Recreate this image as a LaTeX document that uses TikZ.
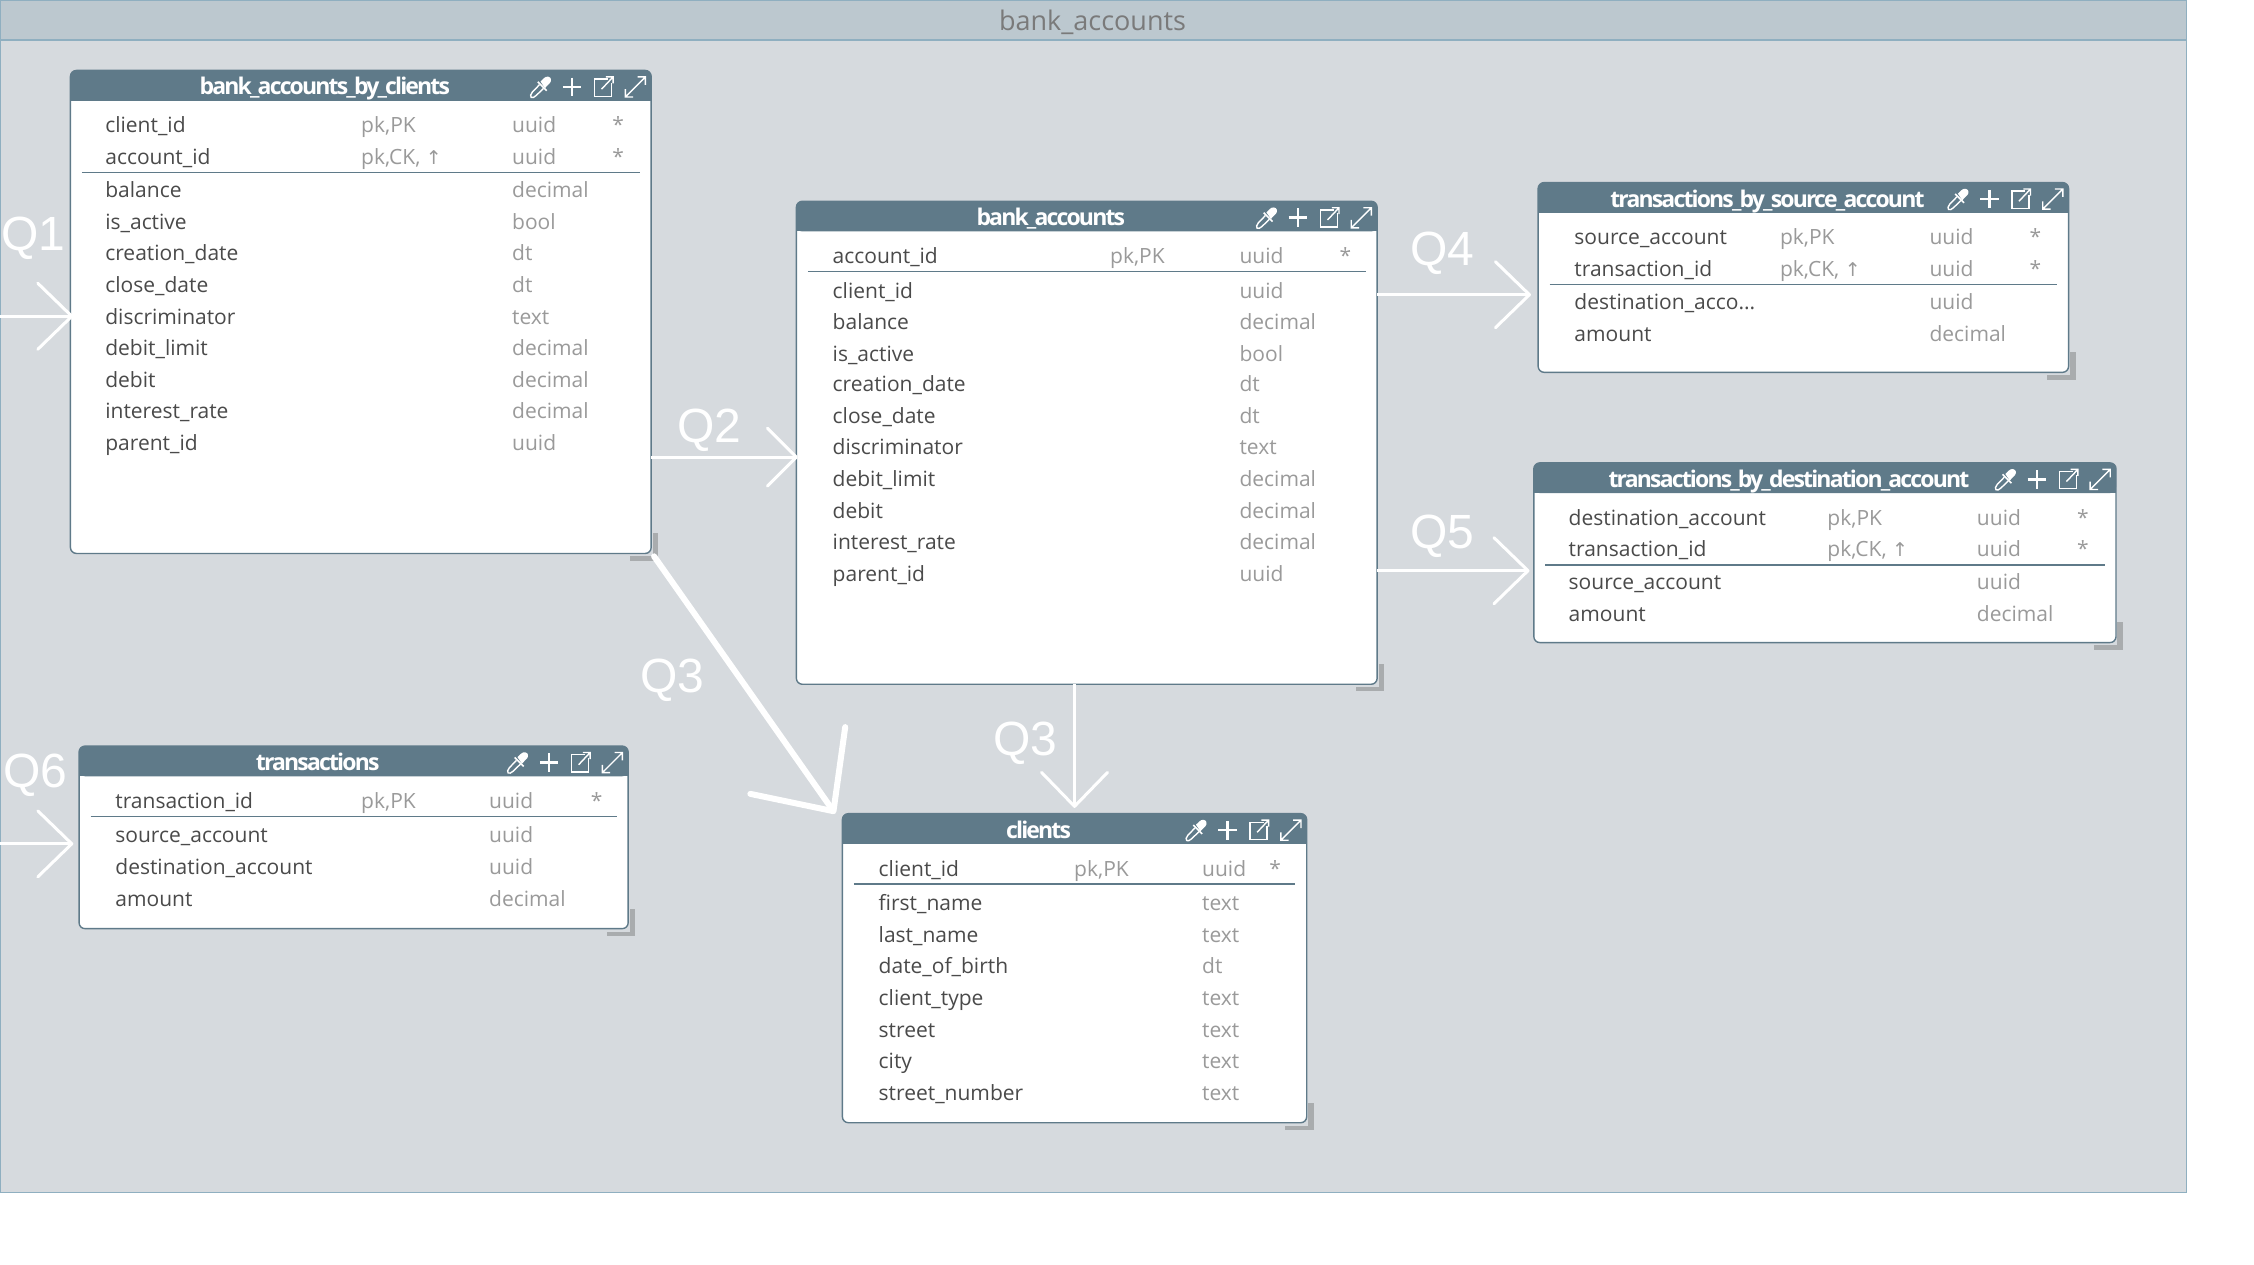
\documentclass[tikz,border=0pt]{standalone}
\usepackage{fontspec}
\setmainfont{Open Sans}
\newfontfamily\titlefont[LetterSpace=-8]{Open Sans Bold}
\newfontfamily\qfont[FakeBold=-0.25]{Liberation Sans}
\newfontfamily\arrowfont{DejaVu Sans}
\usetikzlibrary{arrows.meta}
\definecolor{panel}{HTML}{D6DADE}
\definecolor{panelbar}{HTML}{BCC8CF}
\definecolor{panelline}{HTML}{8FAFC0}
\definecolor{head}{HTML}{5F7A89}
\definecolor{nametext}{HTML}{4A4A4A}
\definecolor{keytext}{HTML}{9A9A9A}
\definecolor{grip}{HTML}{A9ACAE}
\newlength{\unitpx}\setlength{\unitpx}{0.71875pt}
\tikzset{
  x=\unitpx,y=-\unitpx,
  tablebox/.style={draw=head,line width=0.7pt,fill=white,rounded corners=3pt,inner sep=0pt,outer sep=0pt,anchor=north west},
  headbar/.style={fill=head,rounded corners=3pt},
  titletext/.style={text=white,font=\titlefont\fontsize{11.5}{13}\selectfont,inner sep=0pt,anchor=base},
  nametxt/.style={text=nametext,font=\fontsize{10.5}{13}\selectfont,inner sep=0pt,anchor=base west},
  keytxt/.style={text=keytext,font=\fontsize{10.5}{13}\selectfont,inner sep=0pt,anchor=base west},
  startxt/.style={text=keytext,font=\fontsize{10.5}{13}\selectfont,inner sep=0pt,anchor=base},
  sepline/.style={draw=head,line width=0.6pt},
  iconline/.style={draw=white,line width=0.7pt},
  conn/.style={draw=white,line width=1.5pt,-{Straight Barb[length=17pt,width=33pt,line width=1.5pt,round]}},
  conntwo/.style={draw=white,line width=1.5pt,-{Straight Barb[length=14.5pt,width=29pt,line width=1.5pt,round]}},
  connthick/.style={draw=white,line width=3pt,line cap=round,-{Straight Barb[length=31pt,width=58pt,line width=3pt,round]}},
  qlabel/.style={text=white,font=\qfont\fontsize{24}{28}\selectfont,inner sep=0pt},
}
\newcounter{rowno}
% table: id, left, right, top, bottom, separator y, title
\newcommand{\erdtable}[7]{%
  \node[tablebox,minimum width={(#3-#2)*\unitpx},minimum height={(#5-#4)*\unitpx}] (#1) at (#2,#4) {};
  \fill[headbar] (#2,#4+21) -- (#2,#4) -- (#3,#4) -- (#3,#4+21) -- cycle;
  \fill[head] (#2,#4+12) rectangle (#3,#4+21);
  \node[titletext] (#1title) at ({(#2+#3)/2-25},#4+17) {#7};
  \draw[sepline] (#2+8,#6) -- (#3-8,#6);
  % grip
  \fill[grip] (#3+1,#5-14) rectangle (#3+5,#5+5);
  \fill[grip] (#3-15,#5+2) rectangle (#3+5,#5+5);
  % icons: dropper
  \begin{scope}[shift={(#3-76.5,#4+11.5)}]
    \fill[white] (-0.5,-3.8) .. controls (1,-5) and (2.5,-7.6) .. (4.8,-7.2) .. controls (7,-6.8) and (7.4,-4.6) .. (6.2,-3) .. controls (5,-1.6) and (3.6,-0.6) .. (2.6,0.8) -- cycle;
    \draw[draw=white,line width=0.8pt] (-2.4,-3.6) -- (3.8,2.6);
    \draw[iconline] (-1.2,-1.6) -- (-6.2,3.6) .. controls (-7.4,5) and (-7.8,6.6) .. (-7,7.2) .. controls (-6.2,7.8) and (-4.8,7.2) .. (-3.6,6) -- (1.6,1);
  \end{scope}
  % plus
  \begin{scope}[shift={(#3-55,#4+11.5)}]
    \draw[draw=white,line width=1.3pt] (-6.5,0) -- (6.5,0) (0,-6.5) -- (0,6.5);
  \end{scope}
  % external box
  \begin{scope}[shift={(#3-33,#4+11.5)}]
    \draw[iconline] (3,-5.5) -- (-6.5,-5.5) -- (-6.5,6.5) -- (5.5,6.5) -- (5.5,-3);
    \draw[iconline] (-1.5,1.5) -- (6.5,-7) (1.5,-7) -- (6.5,-7) -- (6.5,-2.5);
  \end{scope}
  % expand
  \begin{scope}[shift={(#3-11,#4+11.5)}]
    \draw[iconline] (-7,7) -- (7,-7) (1.5,-7) -- (7,-7) -- (7,-1.5) (-7,1.5) -- (-7,7) -- (-1.5,7);
  \end{scope}
}
% row: name x, key x, type x, star x set by \setcols
\newcommand{\setcols}[4]{\def\colA{#1}\def\colB{#2}\def\colC{#3}\def\colD{#4}}
\newcommand{\erow}[5][]{%
  \stepcounter{rowno}%
  \node[nametxt] (n\therowno) at (\colA,#2+5.4) {#3};
  \if\relax\detokenize{#4}\relax\else\node[keytxt] (k\therowno) at (\colB,#2+5.4) {#4};\fi
  \node[keytxt] (t\therowno) at (\colC,#2+5.4) {#5};
  \if\relax\detokenize{#1}\relax\else\node[startxt] (s\therowno) at (\colD,#2+5.4) {*};\fi
}
\newcommand{\upar}{{\arrowfont\fontsize{9.5}{11}\selectfont ↑}}
\begin{document}
\begin{tikzpicture}
\useasboundingbox (0,0) rectangle (1568,879.3);
\fill[white] (0,0) rectangle (1568,879.3);
\node[draw=panelline,line width=0.6pt,fill=panel,minimum width={1520.5*\unitpx},minimum height={829.5*\unitpx},inner sep=0pt,outer sep=0pt,anchor=north west] (panel) at (0.3,0.3) {};
\node[draw=panelline,line width=0.6pt,fill=panelbar,minimum width={1520.5*\unitpx},minimum height={27.5*\unitpx},inner sep=0pt,outer sep=0pt,anchor=north west] (panelhead) at (0.3,0.3) {};
\node[text=black!52,font=\fontsize{13.5}{15}\selectfont,inner sep=0pt] (paneltitle) at (760,15.5) {bank\_accounts};

\erdtable{clientsby}{49}{453}{49}{385}{120}{bank\_accounts\_by\_clients}
\setcols{73}{251}{356}{430}
\erow[s]{87}{client\_id}{pk,PK}{uuid}
\erow[s]{109}{account\_id}{pk,CK, \upar}{uuid}
\erow{132}{balance}{}{decimal}
\erow{154}{is\_active}{}{bool}
\erow{176}{creation\_date}{}{dt}
\erow{198}{close\_date}{}{dt}
\erow{220}{discriminator}{}{text}
\erow{242}{debit\_limit}{}{decimal}
\erow{264}{debit}{}{decimal}
\erow{286}{interest\_rate}{}{decimal}
\erow{308}{parent\_id}{}{uuid}

\erdtable{accounts}{554}{958}{140}{476}{189}{bank\_accounts}
\setcols{579}{772}{862}{936}
\erow[s]{178}{account\_id}{pk,PK}{uuid}
\erow{202}{client\_id}{}{uuid}
\erow{224}{balance}{}{decimal}
\erow{246}{is\_active}{}{bool}
\erow{267}{creation\_date}{}{dt}
\erow{289}{close\_date}{}{dt}
\erow{311}{discriminator}{}{text}
\erow{333}{debit\_limit}{}{decimal}
\erow{355}{debit}{}{decimal}
\erow{377}{interest\_rate}{}{decimal}
\erow{399}{parent\_id}{}{uuid}

\erdtable{bysource}{1070}{1439}{127}{259}{198}{transactions\_by\_source\_account}
\setcols{1095}{1238}{1342}{1416}
\erow[s]{165}{source\_account}{pk,PK}{uuid}
\erow[s]{187}{transaction\_id}{pk,CK, \upar}{uuid}
\erow{210}{destination\_acco...}{}{uuid}
\erow{232}{amount}{}{decimal}

\erdtable{bydest}{1067}{1472}{322}{447}{393}{transactions\_by\_destination\_account}
\setcols{1091}{1271}{1375}{1449}
\erow[s]{360}{destination\_account}{pk,PK}{uuid}
\erow[s]{382}{transaction\_id}{pk,CK, \upar}{uuid}
\erow{405}{source\_account}{}{uuid}
\erow{427}{amount}{}{decimal}

\erdtable{transactions}{55}{437}{519}{646}{568}{transactions}
\setcols{80}{251}{340}{415}
\erow[s]{557}{transaction\_id}{pk,PK}{uuid}
\erow{581}{source\_account}{}{uuid}
\erow{603}{destination\_account}{}{uuid}
\erow{625}{amount}{}{decimal}

\erdtable{clients}{586}{909}{566}{781}{615}{clients}
\setcols{611}{747}{836}{887}
\erow[s]{604}{client\_id}{pk,PK}{uuid}
\erow{628}{first\_name}{}{text}
\erow{650}{last\_name}{}{text}
\erow{672}{date\_of\_birth}{}{dt}
\erow{694}{client\_type}{}{text}
\erow{716}{street}{}{text}
\erow{738}{city}{}{text}
\erow{760}{street\_number}{}{text}

% connector ends
\coordinate (qonefrom) at (0,220);
\coordinate (qsixfrom) at (0,587);
\coordinate (qoneto) at (51,220);
\coordinate (qsixto) at (51,587);
\coordinate (qtwofrom) at (453,318);
\coordinate (qtwoto) at (555,318);
\coordinate (qfourfrom) at (958,205);
\coordinate (qfourto) at (1065,205);
\coordinate (qfivefrom) at (958,397);
\coordinate (qfiveto) at (1064,397);
\coordinate (qthreefrom) at (747.5,476);
\coordinate (qthreeto) at (747.5,562);
\coordinate (qdiagfrom) at (455,387);
\coordinate (qdiagto) at (581,566);

\draw[conn] (qonefrom) -- (qoneto);
\draw[conn] (qsixfrom) -- (qsixto);
\draw[conntwo] (qtwofrom) -- (qtwoto);
\draw[conn] (qfourfrom) -- (qfourto);
\draw[conn] (qfivefrom) -- (qfiveto);
\draw[conn] (qthreefrom) -- (qthreeto);
\draw[connthick] (qdiagfrom) -- (qdiagto);

\node[qlabel] (qone) at (23,166) {Q1};
\node[qlabel] (qtwo) at (493.5,299) {Q2};
\node[qlabel] (qthreea) at (467.5,473) {Q3};
\node[qlabel] (qthreeb) at (713.5,517) {Q3};
\node[qlabel] (qfour) at (1003.5,176) {Q4};
\node[qlabel] (qfive) at (1003.5,373) {Q5};
\node[qlabel] (qsix) at (24.5,539) {Q6};
\end{tikzpicture}
\end{document}
